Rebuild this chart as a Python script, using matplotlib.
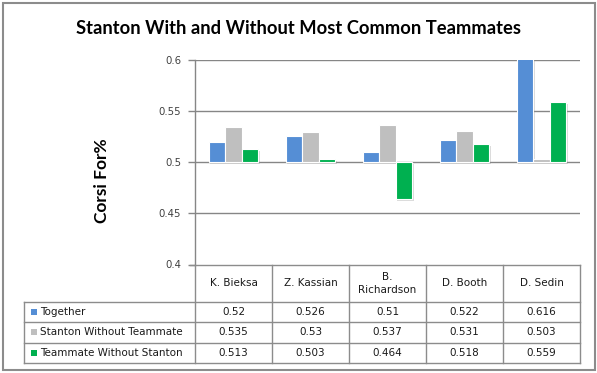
import matplotlib
matplotlib.use("Agg")
import matplotlib.pyplot as plt
import matplotlib.patheffects as pe
from matplotlib.patches import Rectangle
import numpy as np

categories = ["K. Bieksa", "Z. Kassian", "B.\nRichardson", "D. Booth", "D. Sedin"]
series_names = ["Together", "Stanton Without Teammate", "Teammate Without Stanton"]
together = [0.52, 0.526, 0.51, 0.522, 0.616]
stanton_without = [0.535, 0.53, 0.537, 0.531, 0.503]
teammate_without = [0.513, 0.503, 0.464, 0.518, 0.559]
yticks = [0.4, 0.45, 0.5, 0.55, 0.6]
ytick_labels = ["0.4", "0.45", "0.5", "0.55", "0.6"]
colors = ["#558ED5", "#BFBFBF", "#00B050"]

W, H = 597, 373
fig = plt.figure(figsize=(W / 100, H / 100), dpi=100)
fig.patch.set_facecolor("white")

# pixel layout
ax_l, ax_r, ax_t, ax_b = 195, 580, 60.3, 264.5
ax = fig.add_axes([ax_l / W, 1 - ax_b / H, (ax_r - ax_l) / W, (ax_b - ax_t) / H])
ax.set_xlim(-0.5, len(categories) - 0.5)
ax.set_ylim(0.4, 0.6)

grid_c = "#868686"
for y in yticks[1:]:
    ax.axhline(y, color=grid_c, lw=1.0, zorder=1)

series = [together, stanton_without, teammate_without]
x = np.arange(len(categories))
bw = 0.215
shadow = [pe.SimplePatchShadow(offset=(1, -1.5), shadow_rgbFace="#8a8a8a", alpha=0.3), pe.Normal()]
for i, (vals, c) in enumerate(zip(series, colors)):
    v = np.array(vals)
    bars = ax.bar(x + (i - 1) * bw, v - 0.5, bw, bottom=0.5, color=c,
                  edgecolor="white", linewidth=0.8, zorder=3)
    for b in bars:
        b.set_path_effects(shadow)

ax.set_xticks([])
ax.set_yticks(yticks)
ax.set_yticklabels(ytick_labels, fontsize=7.3, color="#404040")
ax.tick_params(axis="y", length=5, width=1, color=grid_c, pad=5)
for s in ["top", "right", "bottom"]:
    ax.spines[s].set_visible(False)
ax.spines["left"].set_color(grid_c)
ax.spines["left"].set_linewidth(1)

# overlay in pixel coordinates for title, ylabel, table and border
ov = fig.add_axes([0, 0, 1, 1], zorder=5)
ov.set_xlim(0, W)
ov.set_ylim(H, 0)
ov.axis("off")
ov.patch.set_alpha(0)

ov.add_patch(Rectangle((2.5, 2.5), W - 5, H - 5.5, fill=False, ec="#8c8c8c", lw=1.5))

title_font = ["Lato", "DejaVu Sans"]
ov.text(299, 29, "Stanton With and Without Most Common Teammates", ha="center", va="center",
        fontsize=13.2, fontweight="bold", family=title_font, color="black")
ov.text(102, 181, "Corsi For%", ha="center", va="center", rotation=90,
        fontsize=12.5, fontweight="bold", family=title_font, color="black")

# data table
lc = "#8c8c8c"
tab_left = 24
col_l = ax_l
colw = (ax_r - ax_l) / len(categories)
row_top = ax_b
header_b = 302.3
row_h = 20.1
n_rows = len(series)
tab_bottom = header_b + n_rows * row_h

ov.plot([ax_l - 5, ax_r], [row_top, row_top], color=lc, lw=1)
for k in range(len(categories) + 1):
    xx = col_l + k * colw
    ov.plot([xx, xx], [row_top, tab_bottom], color=lc, lw=1)
ov.plot([tab_left, tab_left], [header_b, tab_bottom], color=lc, lw=1)
for r in range(n_rows + 1):
    yy = header_b + r * row_h
    ov.plot([tab_left, ax_r], [yy, yy], color=lc, lw=1)

tfs = 7.5
for k, cat in enumerate(categories):
    ov.text(col_l + (k + 0.5) * colw, (row_top + header_b) / 2, cat, ha="center", va="center",
            fontsize=tfs, color="#1a1a1a", linespacing=1.3)
for r, (name, vals, c) in enumerate(zip(series_names, series, colors)):
    yc = header_b + (r + 0.5) * row_h
    ov.add_patch(Rectangle((tab_left + 7, yc - 3), 6, 6, fc=c, ec="none"))
    ov.text(tab_left + 16, yc, name, ha="left", va="center", fontsize=tfs, color="#1a1a1a")
    for k, v in enumerate(vals):
        ov.text(col_l + (k + 0.5) * colw, yc, f"{v:g}", ha="center", va="center",
                fontsize=tfs, color="#1a1a1a")

fig.savefig("out.png", dpi=100, facecolor="white")
